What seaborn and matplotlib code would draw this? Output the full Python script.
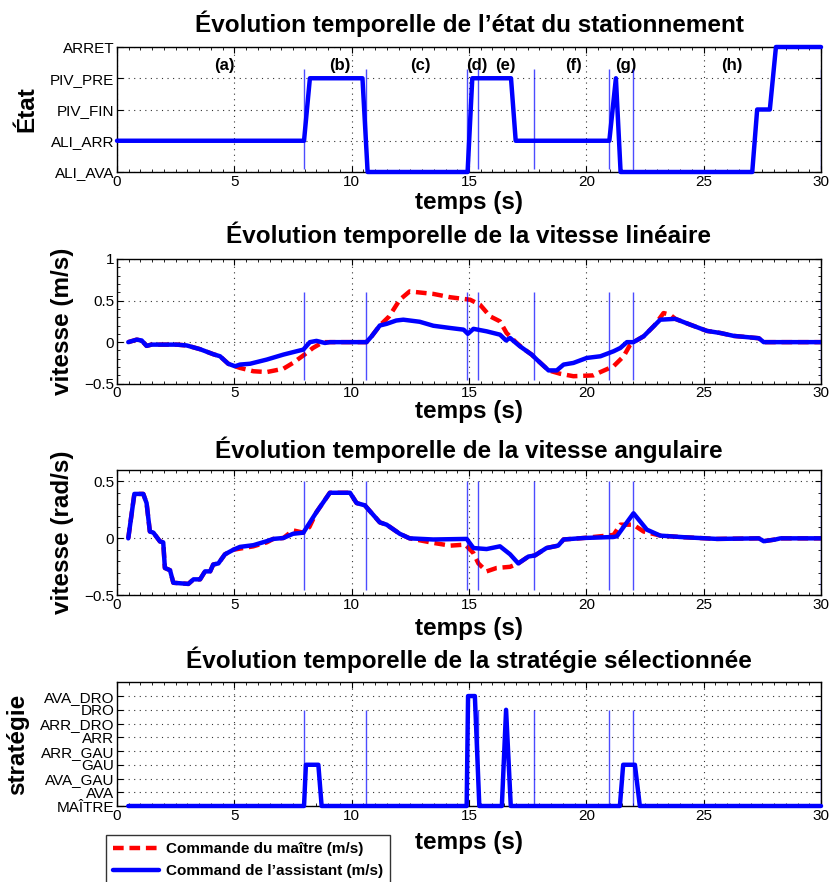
import matplotlib
matplotlib.use("Agg")
import matplotlib.pyplot as plt
from matplotlib.ticker import MultipleLocator, FuncFormatter
import seaborn as sns
import pandas as pd

# ---------------- data ----------------
# parking state (0=ALI_AVA ... 4=ARRET)
t_etat = [0, 7.97, 8.22, 10.46, 10.68, 14.94, 15.14, 16.79, 16.99, 20.98,
          21.26, 21.46, 27.07, 27.28, 27.82, 28.08, 30]
etat = [1, 1, 3, 3, 0, 0, 3, 3, 1, 1, 3, 0, 0, 2, 2, 4, 4]
etat_labels = ["ALI_AVA", "ALI_ARR", "PIV_FIN", "PIV_PRE", "ARRET"]

# phase markers
phase_t = [7.97, 10.61, 14.93, 15.4, 17.78, 20.98, 21.99, 30]
phase_names = ["(a)", "(b)", "(c)", "(d)", "(e)", "(f)", "(g)", "(h)"]
phase_name_t = [4.56, 9.5, 12.94, 15.35, 16.57, 19.47, 21.69, 26.19]

# linear velocity - master command
t_lin_m = [0.48, 0.84, 1.05, 1.26, 1.47, 2.54, 2.97, 3.54, 4.1, 4.39, 4.74, 5.03,
           5.24, 5.81, 6.38, 7.09, 7.5, 7.94, 8.35, 8.78, 9.07, 10.63, 10.85, 11.2,
           11.6, 12.05, 12.47, 13.48, 14.2, 15.05, 15.47, 15.9, 16.32, 16.6, 17.03,
           17.3, 17.67, 17.89, 18.39, 18.88, 19.45, 20.3, 20.6, 21.16, 21.59, 21.87,
           22.01, 22.44, 22.9, 23.29, 23.57, 23.79, 24.43, 25.14, 25.71, 26.28,
           27.35, 27.56, 30]
v_lin_m = [0, 0.03, 0.02, -0.045, -0.03, -0.03, -0.04, -0.085, -0.145, -0.17,
           -0.26, -0.29, -0.31, -0.35, -0.36, -0.32, -0.25, -0.16, -0.07, 0, 0, 0,
           0.07, 0.2, 0.31, 0.51, 0.61, 0.58, 0.54, 0.51, 0.45, 0.31, 0.25, 0.11,
           -0.01, -0.075, -0.15, -0.21, -0.34, -0.38, -0.41, -0.40, -0.36, -0.29,
           -0.17, -0.03, 0, 0.07, 0.2, 0.35, 0.33, 0.28, 0.21, 0.135, 0.11, 0.075,
           0.047, 0, 0]

# linear velocity - assistant command
t_lin_a = [0.48, 0.84, 1.05, 1.26, 1.47, 2.54, 2.97, 3.54, 4.1, 4.39, 4.74, 5.03,
           5.24, 5.67, 6.38, 7.09, 7.65, 7.94, 8.22, 8.5, 8.86, 9.07, 10.63, 10.85,
           11.2, 11.49, 11.9, 12.2, 12.9, 13.48, 14.2, 14.77, 14.95, 15.19, 15.75,
           16.32, 16.58, 16.75, 17.17, 17.67, 17.89, 18.39, 18.74, 19.03, 19.45,
           20.02, 20.6, 21.16, 21.45, 21.73, 22.01, 22.44, 23.15, 23.79, 24.43,
           25.14, 25.71, 26.28, 27.35, 27.56, 30]
v_lin_a = [0, 0.03, 0.02, -0.045, -0.03, -0.03, -0.04, -0.085, -0.145, -0.17,
           -0.26, -0.29, -0.27, -0.26, -0.21, -0.15, -0.11, -0.09, 0, 0.015, -0.01,
           0, 0, 0.07, 0.2, 0.22, 0.26, 0.27, 0.245, 0.197, 0.17, 0.15, 0.10, 0.16,
           0.13, 0.09, 0.02, 0.05, -0.05, -0.15, -0.21, -0.34, -0.34, -0.27, -0.25,
           -0.19, -0.17, -0.11, -0.07, 0, 0, 0.07, 0.27, 0.28, 0.21, 0.135, 0.11,
           0.075, 0.047, 0, 0]

# angular velocity - master command
t_ang_m = [0.48, 0.74, 1.12, 1.26, 1.4, 1.55, 1.83, 1.97, 2.04, 2.26, 2.4, 3.04,
           3.26, 3.54, 3.75, 3.97, 4.1, 4.32, 4.6, 4.96, 5.24, 5.81, 6.38, 6.66,
           7.09, 7.5, 7.94, 8.2, 8.5, 9.07, 9.93, 10.21, 10.56, 11.2, 11.49, 12.05,
           12.47, 13.48, 14.2, 14.84, 15.19, 15.4, 15.75, 16.18, 16.75, 17.1, 17.53,
           17.81, 18.3, 18.8, 19.03, 19.88, 21.16, 21.45, 22.0, 22.44, 23.15, 24.15,
           25.57, 27.35, 27.56, 28.06, 28.27, 30]
w_ang_m = [0, 0.39, 0.39, 0.31, 0.06, 0.05, -0.027, -0.035, -0.26, -0.28, -0.39,
           -0.4, -0.36, -0.36, -0.29, -0.29, -0.23, -0.22, -0.14, -0.1, -0.09, -0.07,
           -0.035, -0.005, 0.003, 0.07, 0.05, 0.1, 0.23, 0.40, 0.40, 0.31, 0.29,
           0.14, 0.12, 0.04, 0, -0.04, -0.064, -0.055, -0.13, -0.22, -0.29, -0.26,
           -0.25, -0.22, -0.16, -0.15, -0.085, -0.064, -0.01, 0.003, 0.03, 0.12,
           0.12, 0.06, 0.024, 0.01, -0.005, 0, -0.025, -0.01, 0, 0]

# angular velocity - assistant command
t_ang_a = [0.48, 0.74, 1.12, 1.26, 1.4, 1.55, 1.83, 1.97, 2.04, 2.26, 2.4, 3.04,
           3.26, 3.54, 3.75, 3.97, 4.1, 4.32, 4.6, 4.96, 5.24, 5.81, 6.38, 6.66,
           7.09, 7.5, 7.94, 8.5, 9.07, 9.93, 10.21, 10.56, 11.2, 11.49, 12.05, 12.47,
           13.48, 14.9, 15.19, 15.75, 16.32, 16.75, 17.1, 17.53, 17.81, 18.3, 18.8,
           19.03, 19.88, 21.16, 21.3, 22.01, 22.58, 23.15, 24.15, 25.57, 27.35,
           27.56, 28.06, 28.27, 30]
w_ang_a = [0, 0.39, 0.39, 0.31, 0.06, 0.05, -0.027, -0.035, -0.26, -0.28, -0.39,
           -0.4, -0.36, -0.36, -0.29, -0.29, -0.23, -0.22, -0.14, -0.1, -0.075,
           -0.06, -0.025, -0.005, 0.003, 0.04, 0.05, 0.23, 0.40, 0.40, 0.31, 0.29,
           0.14, 0.12, 0.04, 0, -0.01, -0.005, -0.085, -0.094, -0.07, -0.14, -0.22,
           -0.16, -0.15, -0.085, -0.064, -0.01, 0.003, 0.012, 0.018, 0.22, 0.076,
           0.024, 0.01, -0.005, 0, -0.025, -0.01, 0, 0]

# selected strategy (0=MAÎTRE ... 8=AVA_DRO)
t_strat = [0.48, 7.97, 8.05, 8.58, 8.72, 14.9, 14.96, 15.25, 15.44, 16.4, 16.58,
           16.78, 21.43, 21.57, 22.07, 22.28, 30]
strat = [0, 0, 3, 3, 0, 0, 8, 8, 0, 0, 7, 0, 0, 3, 3, 0, 0]
strat_labels = ["MAÎTRE", "AVA", "AVA_GAU", "GAU", "ARR_GAU", "ARR", "ARR_DRO",
                "DRO", "AVA_DRO"]

titles = ["Évolution temporelle de l’état du stationnement",
          "Évolution temporelle de la vitesse linéaire",
          "Évolution temporelle de la vitesse angulaire",
          "Évolution temporelle de la stratégie sélectionnée"]
ylabels = ["État", "vitesse (m/s)", "vitesse (rad/s)", "stratégie"]
legend_labels = ["Commande du maître (m/s)", "Command de l’assistant (m/s)"]

# ---------------- style ----------------
sns.set_style("ticks")
plt.rcParams["font.family"] = ["Liberation Sans", "DejaVu Sans"]
plt.rcParams["text.color"] = "black"
plt.rcParams["axes.labelcolor"] = "black"
plt.rcParams["xtick.color"] = "black"
plt.rcParams["ytick.color"] = "black"
plt.rcParams["xtick.direction"] = "in"
plt.rcParams["ytick.direction"] = "in"
plt.rcParams["xtick.top"] = True
plt.rcParams["ytick.right"] = True

BLUE = "#0000ff"
RED = "#ff0000"
LW = 3.2
DASH = (0, (2.4, 1.3))

# compact numeric labels with a true minus sign
num_fmt = FuncFormatter(lambda v, pos: f"{v:g}".replace("-", "\u2212"))

fig = plt.figure(figsize=(8.32, 8.82), dpi=100)
W, H = 832, 882


def make_axes(top_px, bottom_px):
    return fig.add_axes([117 / W, 1 - bottom_px / H, 704 / W, (bottom_px - top_px) / H])


axes = [make_axes(47, 172), make_axes(259, 383.7), make_axes(470, 595.3),
        make_axes(682.3, 806)]

title_off = [23 / 125, 24 / 124.7, 20.7 / 125.3, 22.3 / 123.7]
xlab_off = [-30.5 / 125, -27.5 / 124.7, -33.5 / 125.3, -36.5 / 123.7]
ylab_x = [(27 - 117) / 704, (63 - 117) / 704, (63 - 117) / 704, (18 - 117) / 704]
vline_span = [(0.1, 3.3), (-0.45, 0.6), (-0.45, 0.5), (0, 7)]

# panel 1: parking state
ax = axes[0]
sns.lineplot(x=t_etat, y=etat, ax=ax, color=BLUE, lw=LW, estimator=None,
             sort=False, clip_on=False, zorder=3)
ax.set_ylim(0, 4)
ax.set_yticks(range(len(etat_labels)))
ax.set_yticklabels(etat_labels)
for name, tx in zip(phase_names, phase_name_t):
    ax.text(tx, 3.42, name, ha="center", va="center", fontsize=12,
            fontweight="bold")

# panel 2: linear velocity
ax = axes[1]
df_m = pd.DataFrame({"t": t_lin_m, "v": v_lin_m})
df_a = pd.DataFrame({"t": t_lin_a, "v": v_lin_a})
sns.lineplot(data=df_m, x="t", y="v", ax=ax, color=RED, lw=LW, linestyle=DASH,
             estimator=None, sort=False, label=legend_labels[0], legend=False)
sns.lineplot(data=df_a, x="t", y="v", ax=ax, color=BLUE, lw=LW,
             estimator=None, sort=False, label=legend_labels[1], legend=False)
ax.set_ylim(-0.5, 1)
ax.set_yticks([-0.5, 0, 0.5, 1])
ax.yaxis.set_major_formatter(num_fmt)
ax.yaxis.set_minor_locator(MultipleLocator(0.1))

# panel 3: angular velocity
ax = axes[2]
sns.lineplot(x=t_ang_m, y=w_ang_m, ax=ax, color=RED, lw=LW, linestyle=DASH,
             estimator=None, sort=False)
sns.lineplot(x=t_ang_a, y=w_ang_a, ax=ax, color=BLUE, lw=LW, estimator=None,
             sort=False)
ax.set_ylim(-0.5, 0.6)
ax.set_yticks([-0.5, 0, 0.5])
ax.yaxis.set_major_formatter(num_fmt)
ax.yaxis.set_minor_locator(MultipleLocator(0.1))

# panel 4: strategy
ax = axes[3]
sns.lineplot(x=t_strat, y=strat, ax=ax, color=BLUE, lw=LW, estimator=None,
             sort=False, clip_on=False, zorder=3)
ax.set_ylim(0, 9)
ax.set_yticks(range(len(strat_labels)))
ax.set_yticklabels(strat_labels)

for i, ax in enumerate(axes):
    ax.vlines(phase_t, vline_span[i][0], vline_span[i][1], colors=BLUE,
              lw=1.0, alpha=0.7, zorder=4)
    ax.set_xlim(0, 30)
    ax.set_xticks([0, 5, 10, 15, 20, 25, 30])
    ax.xaxis.set_minor_locator(MultipleLocator(0.5))
    ax.grid(True, which="major", linestyle=(0, (1, 4)), color="black",
            lw=0.8, alpha=0.8)
    ax.tick_params(which="major", length=4, width=0.8, labelsize=11, pad=2,
                   colors="black")
    ax.tick_params(which="minor", length=2, width=0.6)
    for s in ax.spines.values():
        s.set_linewidth(1.0)
        s.set_color("black")
    ax.text(0.5, 1 + title_off[i], titles[i], transform=ax.transAxes,
            ha="center", va="center", fontsize=17.5, fontweight="bold")
    ax.set_xlabel("temps (s)", fontsize=17.5, fontweight="bold", va="center")
    ax.xaxis.set_label_coords(0.5, xlab_off[i])
    ax.set_ylabel(ylabels[i], fontsize=17.5, fontweight="bold", va="center")
    ax.yaxis.set_label_coords(ylab_x[i], 0.5)

handles, labels = axes[1].get_legend_handles_labels()
leg = fig.legend(handles, labels, loc="upper left",
                 bbox_to_anchor=(106 / W, 1 - 835 / H), frameon=True,
                 fancybox=False, prop={"weight": "bold", "size": 11},
                 handlelength=3.0, handletextpad=0.5, labelspacing=0.55,
                 borderpad=0.45, borderaxespad=0)
leg.get_frame().set_edgecolor("black")
leg.get_frame().set_linewidth(1.0)

fig.savefig("out.png", dpi=100)
